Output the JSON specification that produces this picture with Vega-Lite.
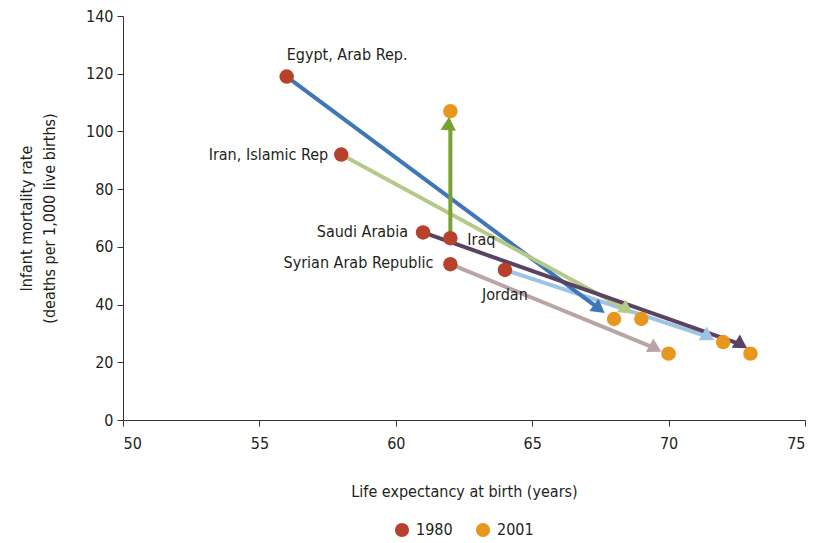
{
  "$schema": "https://vega.github.io/schema/vega-lite/v6.json",
  "width": 682,
  "height": 404,
  "autosize": "none",
  "padding": {"left": 123, "top": 16, "right": 16, "bottom": 123},
  "background": "white",
  "config": {
    "view": {"stroke": null},
    "font": "DejaVu Sans Condensed, Roboto Condensed, Roboto",
    "axis": {
      "grid": false,
      "domainColor": "#333333",
      "tickColor": "#333333",
      "labelColor": "#231F20",
      "titleColor": "#231F20",
      "labelFont": "DejaVu Sans Condensed, Roboto Condensed, Roboto",
      "titleFont": "DejaVu Sans Condensed, Roboto Condensed, Roboto",
      "labelFontSize": 16,
      "titleFontSize": 16,
      "titleFontWeight": "normal",
      "tickSize": 6
    },
    "legend": {
      "labelFont": "DejaVu Sans Condensed, Roboto Condensed, Roboto",
      "labelFontSize": 16,
      "labelColor": "#231F20",
      "layout": {"bottom": {"anchor": "middle"}}
    }
  },
  "datasets": {
    "arrows": [
      {"country": "Jordan", "le1980": 64, "imr1980": 52, "end_le": 71.46, "end_imr": 28.8},
      {"country": "Syrian Arab Republic", "le1980": 62, "imr1980": 54, "end_le": 69.52, "end_imr": 24.8},
      {"country": "Egypt, Arab Rep.", "le1980": 56, "imr1980": 119, "end_le": 67.46, "end_imr": 38.5},
      {"country": "Iran, Islamic Rep", "le1980": 58, "imr1980": 92, "end_le": 68.47, "end_imr": 38.2},
      {"country": "Iraq", "le1980": 62, "imr1980": 63, "end_le": 62, "end_imr": 101.5},
      {"country": "Saudi Arabia", "le1980": 61, "imr1980": 65, "end_le": 72.67, "end_imr": 26.1}
    ],
    "points": [
      {"country": "Egypt, Arab Rep.", "year": "1980", "le": 56, "imr": 119},
      {"country": "Iran, Islamic Rep", "year": "1980", "le": 58, "imr": 92},
      {"country": "Saudi Arabia", "year": "1980", "le": 61, "imr": 65},
      {"country": "Iraq", "year": "1980", "le": 62, "imr": 63},
      {"country": "Syrian Arab Republic", "year": "1980", "le": 62, "imr": 54},
      {"country": "Jordan", "year": "1980", "le": 64, "imr": 52},
      {"country": "Egypt, Arab Rep.", "year": "2001", "le": 68, "imr": 35},
      {"country": "Iran, Islamic Rep", "year": "2001", "le": 69, "imr": 35},
      {"country": "Saudi Arabia", "year": "2001", "le": 73, "imr": 23},
      {"country": "Iraq", "year": "2001", "le": 62, "imr": 107},
      {"country": "Syrian Arab Republic", "year": "2001", "le": 70, "imr": 23},
      {"country": "Jordan", "year": "2001", "le": 72, "imr": 27}
    ]
  },
  "layer": [
    {
      "data": {"name": "arrows"},
      "mark": {"type": "rule", "strokeWidth": 4},
      "encoding": {
        "x": {"field": "le1980", "type": "quantitative", "scale": {"domain": [50, 75], "nice": false},
              "axis": {"values": [50, 55, 60, 65, 70, 75], "title": "Life expectancy at birth (years)", "labelPadding": 9, "titlePadding": 32}},
        "y": {"field": "imr1980", "type": "quantitative", "scale": {"domain": [0, 140], "nice": false},
              "axis": {"values": [0, 20, 40, 60, 80, 100, 120, 140], "title": ["Infant mortality rate", "(deaths per 1,000 live births)"], "labelPadding": 4, "titlePadding": 28, "titleLineHeight": 23}},
        "x2": {"field": "end_le"},
        "y2": {"field": "end_imr"},
        "color": {"field": "country", "type": "nominal", "legend": null,
                  "scale": {"domain": ["Egypt, Arab Rep.", "Iran, Islamic Rep", "Iraq", "Saudi Arabia", "Jordan", "Syrian Arab Republic"],
                            "range": ["#3F76B7", "#B5C98B", "#78A22F", "#5A4360", "#9DC3E6", "#BAA5A5"]}}
      }
    },
    {
      "data": {"name": "arrows"},
      "mark": {"type": "point", "shape": "triangle-up", "filled": true, "opacity": 1, "size": 240},
      "encoding": {
        "x": {"field": "end_le", "type": "quantitative"},
        "y": {"field": "end_imr", "type": "quantitative"},
        "color": {"field": "country", "type": "nominal", "legend": null},
        "angle": {"field": "country", "type": "nominal", "legend": null,
                  "scale": {"domain": ["Egypt, Arab Rep.", "Iran, Islamic Rep", "Iraq", "Saudi Arabia", "Jordan", "Syrian Arab Republic"],
                            "range": [126.7, 118.6, 0, 109.5, 108.4, 112.4]}}
      }
    },
    {
      "data": {"name": "points"},
      "mark": {"type": "point", "shape": "circle", "filled": true, "opacity": 1, "size": 210, "strokeWidth": 0},
      "encoding": {
        "x": {"field": "le", "type": "quantitative"},
        "y": {"field": "imr", "type": "quantitative"},
        "fill": {"field": "year", "type": "nominal",
                 "scale": {"domain": ["1980", "2001"], "range": ["#B8412C", "#E8971E"]},
                 "legend": {"title": null, "orient": "bottom", "direction": "horizontal", "symbolType": "circle", "symbolSize": 200, "symbolStrokeWidth": 0, "columnPadding": 22, "labelOffset": 6, "offset": 23}}
      }
    },
    {
      "data": {"name": "points"},
      "transform": [{"filter": "datum.year === '1980' && datum.country === 'Egypt, Arab Rep.'"}],
      "mark": {"type": "text", "align": "left", "baseline": "alphabetic", "dx": 0, "dy": -17, "fontSize": 16, "color": "#231F20"},
      "encoding": {"x": {"field": "le", "type": "quantitative"}, "y": {"field": "imr", "type": "quantitative"}, "text": {"field": "country"}}
    },
    {
      "data": {"name": "points"},
      "transform": [{"filter": "datum.year === '1980' && datum.country === 'Iran, Islamic Rep'"}],
      "mark": {"type": "text", "align": "right", "baseline": "alphabetic", "dx": -13, "dy": 5, "fontSize": 16, "color": "#231F20"},
      "encoding": {"x": {"field": "le", "type": "quantitative"}, "y": {"field": "imr", "type": "quantitative"}, "text": {"field": "country"}}
    },
    {
      "data": {"name": "points"},
      "transform": [{"filter": "datum.year === '1980' && datum.country === 'Saudi Arabia'"}],
      "mark": {"type": "text", "align": "right", "baseline": "alphabetic", "dx": -15, "dy": 5, "fontSize": 16, "color": "#231F20"},
      "encoding": {"x": {"field": "le", "type": "quantitative"}, "y": {"field": "imr", "type": "quantitative"}, "text": {"field": "country"}}
    },
    {
      "data": {"name": "points"},
      "transform": [{"filter": "datum.year === '1980' && datum.country === 'Syrian Arab Republic'"}],
      "mark": {"type": "text", "align": "right", "baseline": "alphabetic", "dx": -17, "dy": 4, "fontSize": 16, "color": "#231F20"},
      "encoding": {"x": {"field": "le", "type": "quantitative"}, "y": {"field": "imr", "type": "quantitative"}, "text": {"field": "country"}}
    },
    {
      "data": {"name": "points"},
      "transform": [{"filter": "datum.year === '1980' && datum.country === 'Iraq'"}],
      "mark": {"type": "text", "align": "left", "baseline": "alphabetic", "dx": 17, "dy": 7, "fontSize": 16, "color": "#231F20"},
      "encoding": {"x": {"field": "le", "type": "quantitative"}, "y": {"field": "imr", "type": "quantitative"}, "text": {"field": "country"}}
    },
    {
      "data": {"name": "points"},
      "transform": [{"filter": "datum.year === '1980' && datum.country === 'Jordan'"}],
      "mark": {"type": "text", "align": "center", "baseline": "alphabetic", "dx": 0, "dy": 30, "fontSize": 16, "color": "#231F20"},
      "encoding": {"x": {"field": "le", "type": "quantitative"}, "y": {"field": "imr", "type": "quantitative"}, "text": {"field": "country"}}
    }
  ]
}
